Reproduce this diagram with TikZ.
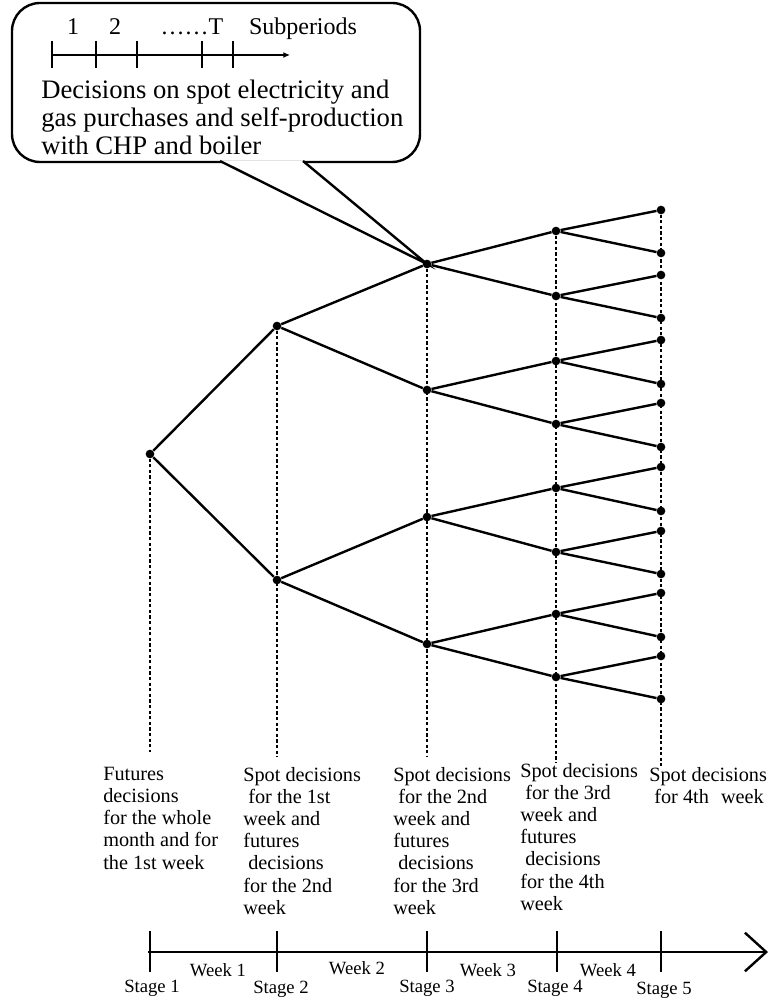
\documentclass[tikz,border=0pt]{standalone}
\usepackage{fontspec}
\setmainfont{Liberation Serif}
\usetikzlibrary{arrows.meta}

\begin{document}
\begin{tikzpicture}[x=0.75pt, y=-0.75pt,
    dot/.style={circle, fill=black, inner sep=0pt, minimum size=6.5pt},
    branch/.style={line width=1.8pt},
    guide/.style={line width=1.8pt, dash pattern=on 2.4pt off 1.8pt},
    decisiontext/.style={align=left, anchor=north west, inner sep=0pt, font=\fontsize{15.2}{16.6}\selectfont},
    axislabel/.style={inner sep=0pt, font=\fontsize{14}{16}\selectfont},
    sublabel/.style={inner sep=0pt, anchor=base, font=\fontsize{18}{20}\selectfont}]
        \useasboundingbox (0,0) rectangle (770,1005);

        % scenario tree
        \node[dot] (r) at (150,454) {};
        \node[dot] (a1) at (277,326) {};
        \node[dot] (a2) at (277,580) {};
        \foreach \i/\y in {1/264,2/390,3/517,4/644}
            \node[dot] (b\i) at (427,\y) {};
        \foreach \i/\y in {1/231,2/296,3/361,4/424,5/488,6/552,7/614,8/677}
            \node[dot] (c\i) at (556,\y) {};
        \foreach \i/\y in {1/210,2/253,3/275,4/318,5/340,6/384,7/403,8/447,9/467,10/511,11/531,12/574,13/593,14/637,15/656,16/699}
            \node[dot] (d\i) at (661,\y) {};

        % lower ends of the stage guides
        \coordinate (e1) at (150,752);
        \coordinate (e2) at (277,757);
        \coordinate (e3) at (427,757);
        \coordinate (e4) at (556,763);
        \coordinate (e5) at (661,766);
        \draw[guide] (r) -- (e1);
        \draw[guide] (a1) -- (e2);
        \draw[guide] (b1) -- (e3);
        \draw[guide] (c1) -- (e4);
        \draw[guide] (d1) -- (e5);

        \foreach \p/\u/\v in {r/a1/a2, a1/b1/b2, a2/b3/b4, b1/c1/c2, b2/c3/c4, b3/c5/c6, b4/c7/c8,
                c1/d1/d2, c2/d3/d4, c3/d5/d6, c4/d7/d8, c5/d9/d10, c6/d11/d12, c7/d13/d14, c8/d15/d16}
            \draw[branch] (\u) -- (\p) -- (\v);

        % callout
        \draw[line width=1.8pt, rounded corners=21pt] (12,3) rectangle (420,162);
        \draw[line width=1.8pt, fill=white] (220,161) -- (b1.center) -- (303,161);
        \draw[line width=1.8pt, -{Latex[length=5pt,width=4.5pt]}] (52,55) -- (290,55);
        \foreach \x in {52,96,137,202,233}
            \draw[line width=1.8pt] (\x,41) -- (\x,68);
        \node[sublabel] (p1) at (73,35) {1};
        \node[sublabel] (p2) at (115,35) {2};
        \node[sublabel] (pT) at (192,35) {\ldots\ldots T};
        \node[sublabel] (sub) at (303,35) {Subperiods};
        \node[align=left, anchor=north west, inner sep=0pt, font=\fontsize{20}{20.8}\selectfont] (dec) at (41,80)
            {Decisions on spot electricity and\\gas purchases and self-production\\with CHP and boiler};

        % decisions per stage
        \node[decisiontext] (t1) at (103,767) {Futures\\decisions\\for the whole\\month and for\\the 1st week};
        \node[decisiontext] (t2) at (243,767) {Spot decisions\\\hspace{0.25em}for the 1st\\week and\\futures\\\hspace{0.25em}decisions\\for the 2nd\\week};
        \node[decisiontext] (t3) at (393,767) {Spot decisions\\\hspace{0.25em}for the 2nd\\week and\\futures\\\hspace{0.25em}decisions\\for the 3rd\\week};
        \node[decisiontext] (t4) at (520,763) {Spot decisions\\\hspace{0.25em}for the 3rd\\week and\\futures\\\hspace{0.25em}decisions\\for the 4th\\week};
        \node[decisiontext] (t5) at (649,767) {Spot decisions\\\hspace{0.25em}for 4th\hspace{0.6em}week};

        % time axis
        \coordinate (ax0) at (148,952);
        \coordinate (ax1) at (768,952);
        \draw[line width=1.8pt, -{Straight Barb[length=16pt,width=29pt]}] (ax0) -- (ax1);
        \foreach \x in {150,277,427,557,661}
            \draw[line width=1.8pt] (\x,931) -- (\x,972);
        \node[axislabel] (s1) at (152,988) {Stage 1};
        \node[axislabel] (s2) at (281,989) {Stage 2};
        \node[axislabel] (s3) at (427,988) {Stage 3};
        \node[axislabel] (s4) at (555,988) {Stage 4};
        \node[axislabel] (s5) at (664,990) {Stage 5};
        \node[axislabel] (w1) at (218,970) {Week 1};
        \node[axislabel] (w2) at (357,968) {Week 2};
        \node[axislabel] (w3) at (488,970) {Week 3};
        \node[axislabel] (w4) at (608,970) {Week 4};
\end{tikzpicture}
\end{document}
